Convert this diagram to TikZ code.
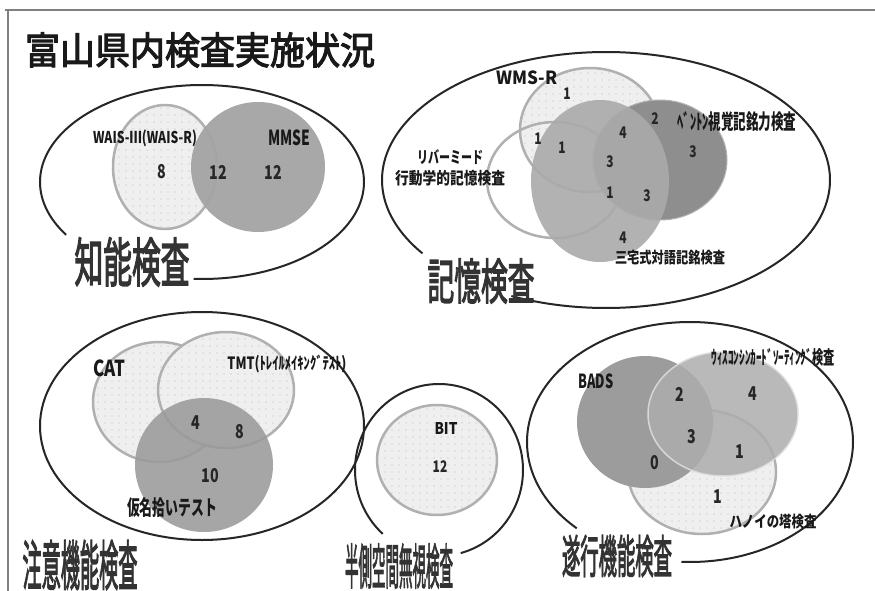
\documentclass[tikz,border=0pt]{standalone}
\usepackage{fontspec}
\newfontfamily\jp{Noto Sans CJK JP}
\newfontfamily\jpfb[FakeBold=3]{Noto Sans CJK JP}
\usetikzlibrary{patterns.meta}
\definecolor{lightfill}{HTML}{EFEFEF}
\definecolor{lightline}{HTML}{B0B0B0}
\definecolor{gA}{HTML}{A4A4A4}
\definecolor{gDark}{HTML}{8E8E8E}
\definecolor{gMid}{HTML}{AAAAAA}
\definecolor{gKana}{HTML}{9A9A9A}
\definecolor{gBads}{HTML}{9C9C9C}
\definecolor{gWis}{HTML}{ADADAD}
\newcommand{\fitbox}[3]{\resizebox*{#1pt}{#2pt}{#3}}
\newcommand{\nmb}[1]{\scalebox{0.75}[1]{#1}}
\begin{document}
\begin{tikzpicture}[x=1pt,y=-1pt,
  lightset/.style={draw=lightline, line width=2.5pt,
    pattern={Dots[distance=7pt,radius=0.55pt]}, pattern color=gray!55,
    preaction={fill=lightfill}},
  outerline/.style={draw=black!85, line width=2pt},
  lbl/.style={inner sep=0pt, font=\jp\bfseries, text=black!90},
  big/.style={inner sep=0pt, font=\jpfb, text=black!80},
  num/.style={inner sep=0pt, font=\jp\bfseries\fontsize{19}{19}\selectfont, text=black!85},
  snum/.style={inner sep=0pt, font=\jp\bfseries\fontsize{16}{16}\selectfont, text=black!85}]
\useasboundingbox (0,0) rectangle (875,591);
\fill[white] (0,0) rectangle (875,591);
% page frame
\draw[gray, line width=1.2pt] (5,10) -- (875,10);
\draw[gray, line width=1.2pt] (8,10) -- (8,591);
% title
\node[big, text=black!90] (title) at (200,50) {\fitbox{350}{35}{富山県内検査実施状況}};

% ---------- 知能検査 ----------
\draw[outerline] plot[domain=-213:93, samples=150, smooth] ({202+162*cos(\x)},{182+97*sin(\x)});
\path[lightset] (165,167) ellipse [x radius=52, y radius=62];
\path[fill=gA, opacity=0.95] (258,167) ellipse [x radius=67, y radius=65];
\node[lbl] (wais) at (145,138) {\fitbox{104}{17}{WAIS-Ⅲ(WAIS-R)}};
\node[lbl] (mmse) at (289,138) {\fitbox{42}{16}{MMSE}};
\node[num] (n1a) at (162,172) {\nmb{8}};
\node[num] (n1b) at (218,172) {\nmb{12}};
\node[num] (n1c) at (273,172) {\nmb{12}};
\node[big] (lab1) at (132,262) {\fitbox{115}{49}{知能検査}};

% ---------- 記憶検査 ----------
\draw[outerline] plot[domain=-215:115, samples=200, smooth] ({606+224*cos(\x)},{180+128*sin(\x)});
\path[lightset] (590,130) ellipse [x radius=70, y radius=62];
\draw[lightline, line width=2.5pt] (555,180) ellipse [x radius=68, y radius=58];
\path[fill=gDark, draw=gray!60, line width=1pt] (660,160) ellipse [x radius=67, y radius=60];
\path[fill=gMid, opacity=0.9] (600,181) ellipse [x radius=69, y radius=81];
\node[lbl] (wms) at (527,78) {\fitbox{61}{14}{WMS-R}};
\node[lbl] (benton) at (737,122) {\fitbox{119}{20}{ﾍﾞﾝﾄﾝ視覚記銘力検査}};
\node[lbl] (river1) at (450,157) {\fitbox{66}{15}{リバーミード}};
\node[lbl] (river2) at (450,178) {\fitbox{110}{16}{行動学的記憶検査}};
\node[lbl] (miyake) at (670,258) {\fitbox{110}{15}{三宅式対語記銘検査}};
\node[snum] (m1) at (567,94) {\nmb{1}};
\node[snum] (m2) at (655,119) {\nmb{2}};
\node[snum] (m3) at (623,133) {\nmb{4}};
\node[snum] (m4) at (538,139) {\nmb{1}};
\node[snum] (m5) at (562,148) {\nmb{1}};
\node[snum] (m6) at (610,162) {\nmb{3}};
\node[snum] (m7) at (693,152) {\nmb{3}};
\node[snum] (m8) at (610,193) {\nmb{1}};
\node[snum] (m9) at (647,196) {\nmb{3}};
\node[snum] (m10) at (623,238) {\nmb{4}};
\node[big] (lab2) at (481,281) {\fitbox{107}{45}{記憶検査}};

% ---------- 注意機能検査 ----------
\draw[outerline] (202,426) ellipse [x radius=162, y radius=114];
\path[lightset] (159,402) ellipse [x radius=66, y radius=60];
\path[lightset] (226,390) ellipse [x radius=68, y radius=58];
\path[fill=gKana, opacity=0.88] (204,465) ellipse [x radius=69, y radius=67];
\node[lbl] (cat) at (109,368) {\fitbox{32}{17}{CAT}};
\node[lbl] (tmt) at (287,364) {\fitbox{119}{18}{TMT(ﾄﾚｲﾙﾒｲｷﾝｸﾞﾃｽﾄ)}};
\node[lbl] (kana) at (172,508) {\fitbox{90}{20}{仮名拾いテスト}};
\node[num] (a1) at (196,423) {\nmb{4}};
\node[num] (a2) at (240,432) {\nmb{8}};
\node[num] (a3) at (210,476) {\nmb{10}};
\node[big] (lab3) at (80,565) {\fitbox{115}{50}{注意機能検査}};

% ---------- 半側空間無視検査 ----------
\draw[outerline] plot[domain=-228:75, samples=150, smooth] ({439+84*cos(\x)},{470+86*sin(\x)});
\path[lightset] (437,460) ellipse [x radius=60, y radius=55];
\node[lbl] (bit) at (446,428) {\fitbox{23}{12}{BIT}};
\node[snum] (b1) at (440,467) {\nmb{12}};
\node[big] (lab4) at (399,566) {\fitbox{108}{45}{半側空間無視検査}};

% ---------- 遂行機能検査 ----------
\draw[outerline] plot[domain=-226:93, samples=200, smooth] ({690+163*cos(\x)},{442+120*sin(\x)});
\path[lightset] (702,472) ellipse [x radius=74, y radius=62];
\path[fill=gBads] (645,422) ellipse [x radius=68, y radius=66];
\path[fill=gWis, opacity=0.85, draw=gray!25, line width=1.5pt] (723,414) ellipse [x radius=75, y radius=62];
\node[lbl] (bads) at (596,381) {\fitbox{35}{15}{BADS}};
\node[lbl] (wis) at (773,357) {\fitbox{123}{18}{ｳｨｽｺﾝｼﾝｶｰﾄﾞｿｰﾃｨﾝｸﾞ検査}};
\node[lbl] (hanoi) at (773,522) {\fitbox{87}{15}{ハノイの塔検査}};
\node[num] (e1) at (680,394) {\nmb{2}};
\node[num] (e2) at (753,394) {\nmb{4}};
\node[num] (e3) at (692,437) {\nmb{3}};
\node[num] (e4) at (740,452) {\nmb{1}};
\node[num] (e5) at (655,463) {\nmb{0}};
\node[num] (e6) at (718,497) {\nmb{1}};
\node[big] (lab5) at (617,556) {\fitbox{110}{42}{遂行機能検査}};
\end{tikzpicture}
\end{document}
